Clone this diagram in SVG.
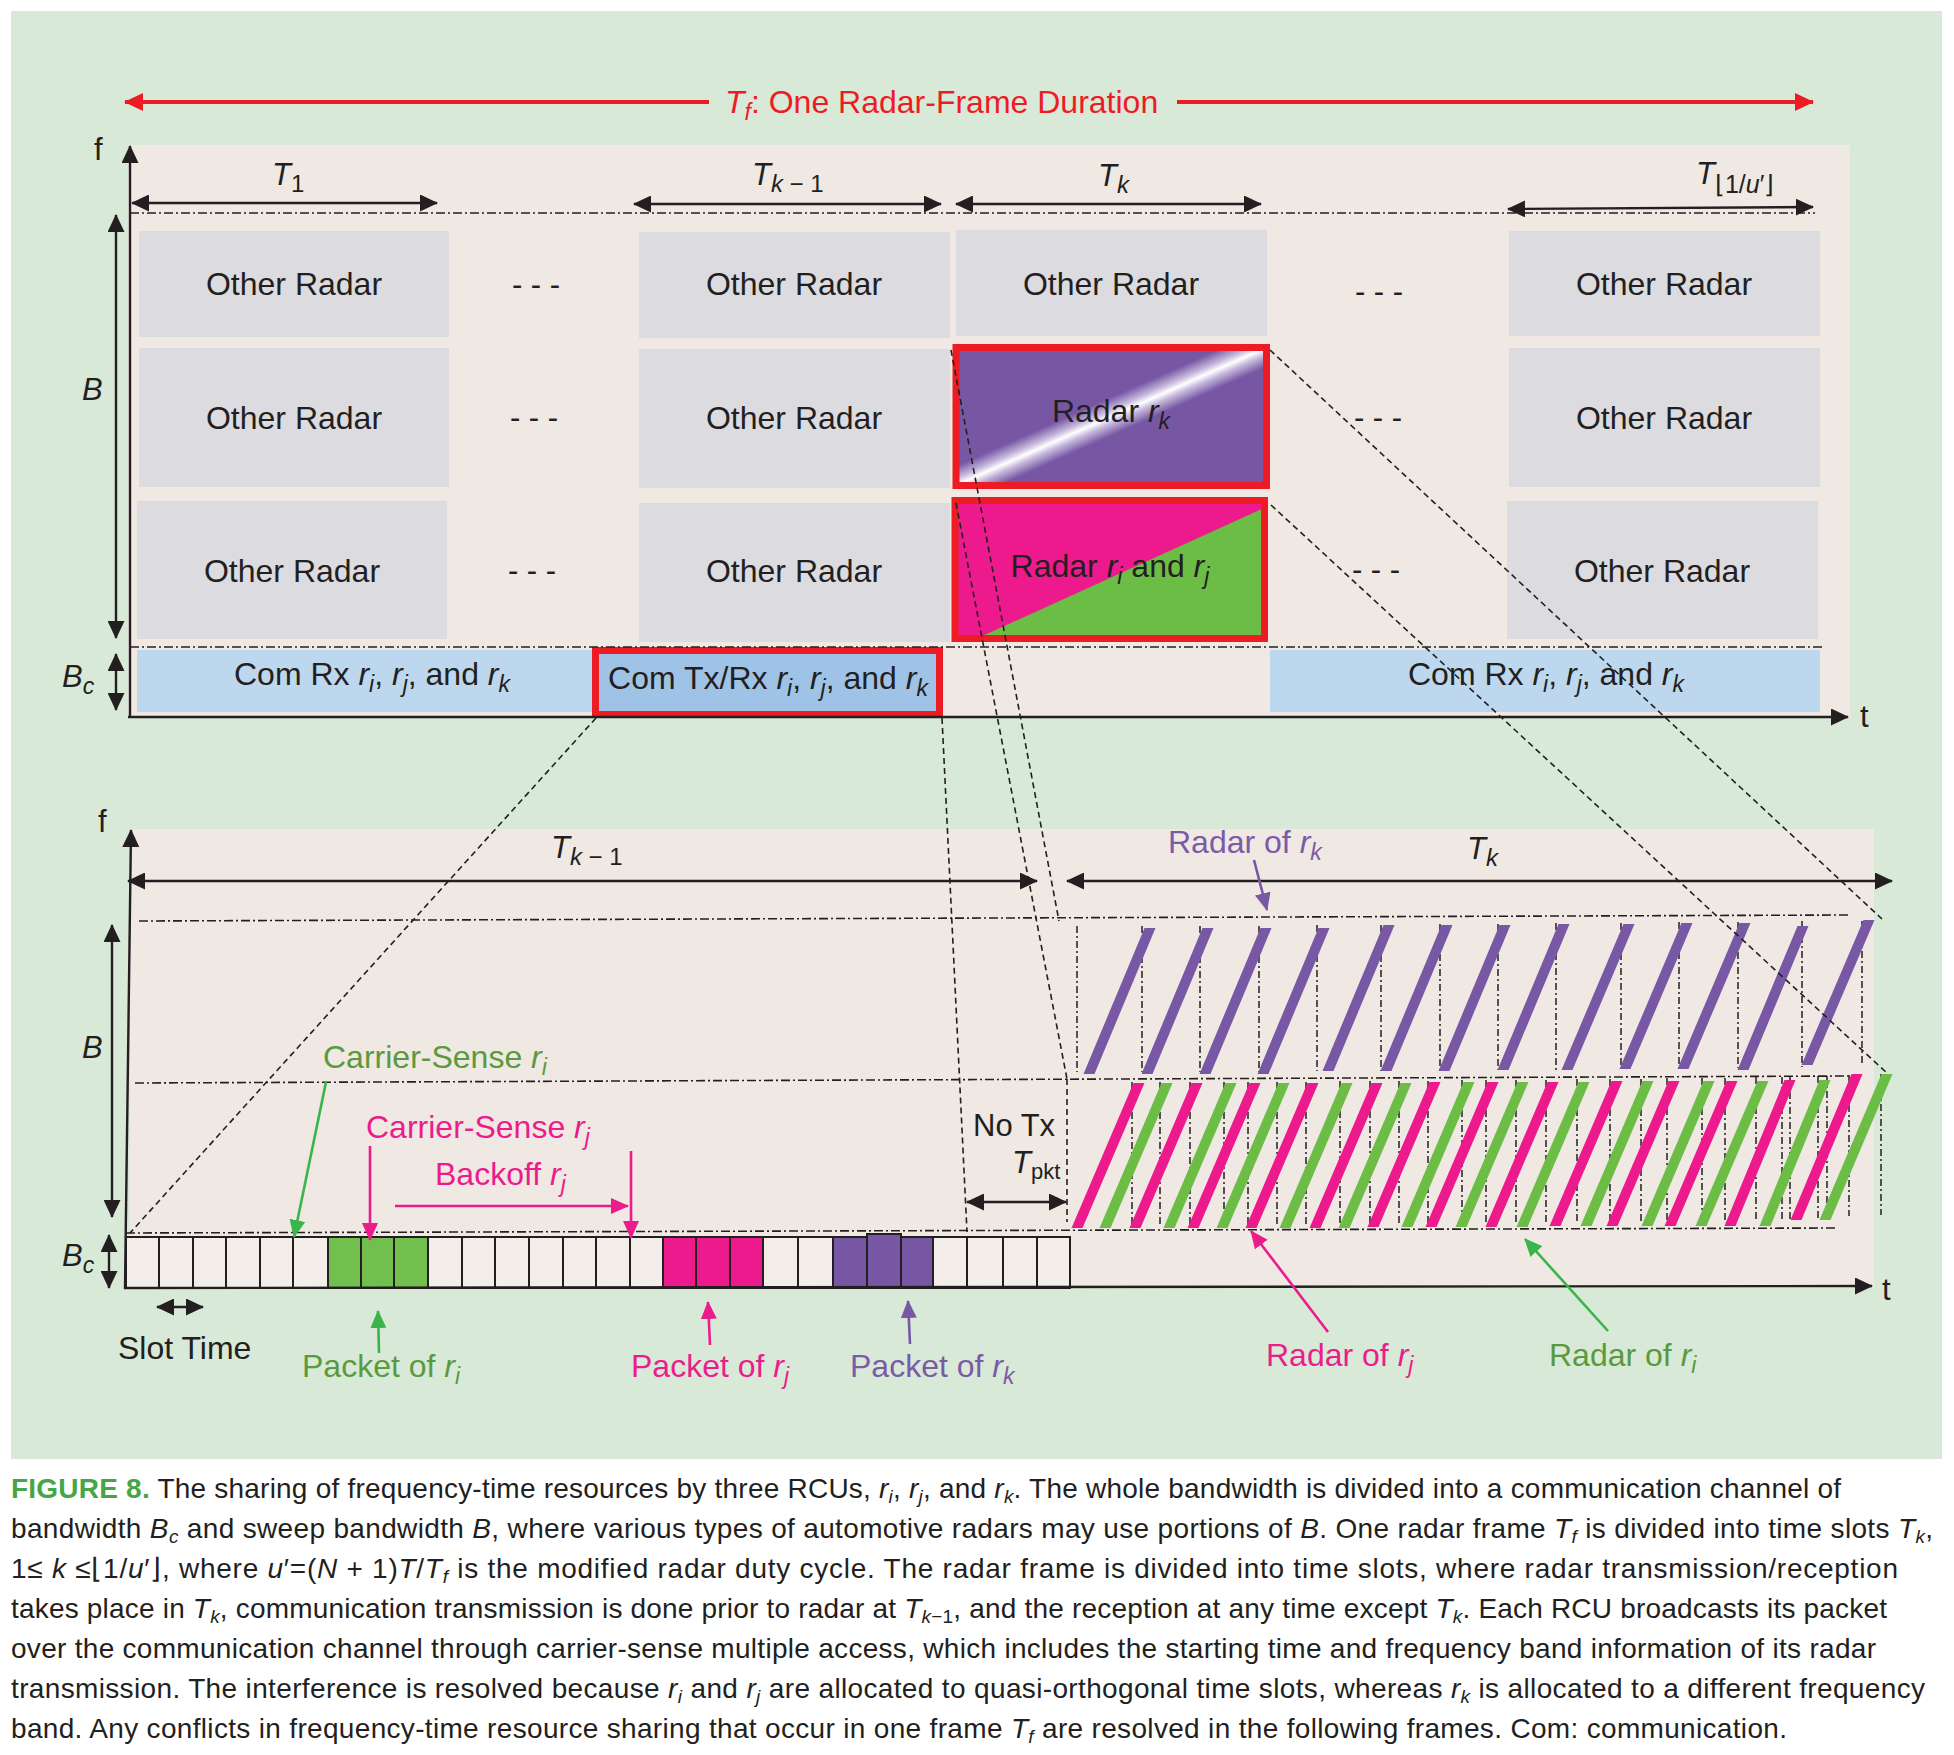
<svg xmlns="http://www.w3.org/2000/svg" width="1954" height="1755" viewBox="0 0 1954 1755">
<defs>
<style>
text{font-family:"Liberation Sans",Arial,Helvetica,sans-serif;fill:#231f20}
.s32{font-size:32px}
.s31{font-size:31px}
.it{font-style:italic}
.gr{fill:#dcdbdf}
.bl{fill:#bdd7ee}
.dd{fill:none;stroke:#231f20;stroke-width:1.6;stroke-dasharray:9 3 2 3}
.dv{fill:none;stroke:#231f20;stroke-width:1.5;stroke-dasharray:7 3 2 3}
.dz{fill:none;stroke:#231f20;stroke-width:1.6;stroke-dasharray:6 4}
.ax{fill:none;stroke:#231f20;stroke-width:2.4}
.dbl{marker-start:url(#ab);marker-end:url(#ab)}
.end{marker-end:url(#ab)}
.red{fill:none;stroke:#ed1c24;stroke-width:4}
.rb{fill:none;stroke:#ed1c24;stroke-width:7}
.slot{fill:#f3eeea;stroke:#231f20;stroke-width:2}
.pu{fill:#7858a5}
.mg{fill:#ec1a8c}
.gn{fill:#6cbd45}
.tg{fill:#5a9a3e}
.tm{fill:#ec1c8c}
.tp{fill:#7a5ba7}
.lg{fill:none;stroke:#39b54a;stroke-width:2.6;marker-end:url(#ag)}
.lm{fill:none;stroke:#ec1c8c;stroke-width:2.6;marker-end:url(#am)}
.lp{fill:none;stroke:#7858a5;stroke-width:2.6;marker-end:url(#ap)}
.cap{font-family:"Liberation Sans",Arial,sans-serif;font-size:28px}
.fig{font-weight:bold;fill:#45a547}
</style>
<marker id="ab" viewBox="0 0 18 17" refX="17" refY="8.5" markerWidth="18" markerHeight="17" markerUnits="userSpaceOnUse" orient="auto-start-reverse"><path d="M0,0L18,8.5L0,17z" fill="#231f20"/></marker>
<marker id="ar" viewBox="0 0 19 18" refX="18" refY="9" markerWidth="19" markerHeight="18" markerUnits="userSpaceOnUse" orient="auto-start-reverse"><path d="M0,0L19,9L0,18z" fill="#ed1c24"/></marker>
<marker id="ag" viewBox="0 0 18 16" refX="17" refY="8" markerWidth="18" markerHeight="16" markerUnits="userSpaceOnUse" orient="auto"><path d="M0,0L18,8L0,16z" fill="#39b54a"/></marker>
<marker id="am" viewBox="0 0 18 16" refX="17" refY="8" markerWidth="18" markerHeight="16" markerUnits="userSpaceOnUse" orient="auto"><path d="M0,0L18,8L0,16z" fill="#ec1c8c"/></marker>
<marker id="ap" viewBox="0 0 18 16" refX="17" refY="8" markerWidth="18" markerHeight="16" markerUnits="userSpaceOnUse" orient="auto"><path d="M0,0L18,8L0,16z" fill="#7858a5"/></marker>
<linearGradient id="gk" x1="0" y1="0" x2="1" y2="1">
<stop offset="0" stop-color="#7757a4"/><stop offset="0.43" stop-color="#7757a4"/><stop offset="0.475" stop-color="#c6b8dc"/><stop offset="0.5" stop-color="#ffffff"/><stop offset="0.525" stop-color="#c6b8dc"/><stop offset="0.57" stop-color="#7757a4"/><stop offset="1" stop-color="#7757a4"/>
</linearGradient>
</defs>

<rect x="0" y="0" width="1954" height="1755" fill="#ffffff"/>
<rect id="background" x="11" y="11" width="1931" height="1448" fill="#d9e9d7"/>

<!-- ===== upper panel ===== -->
<g id="upper-panel">
<rect x="128" y="145" width="1722" height="572" fill="#efe8e3"/>
<g id="other-radar-boxes">
<rect class="gr" x="139" y="231" width="310" height="106"/>
<rect class="gr" x="139" y="348" width="310" height="139"/>
<rect class="gr" x="137" y="501" width="310" height="138"/>
<rect class="gr" x="639" y="232" width="311" height="106"/>
<rect class="gr" x="639" y="349" width="311" height="139"/>
<rect class="gr" x="639" y="503" width="311" height="139"/>
<rect class="gr" x="956" y="230" width="311" height="106"/>
<rect class="gr" x="1509" y="231" width="311" height="105"/>
<rect class="gr" x="1509" y="348" width="311" height="139"/>
<rect class="gr" x="1507" y="501" width="311" height="138"/>
<text class="s32" x="294" y="295" text-anchor="middle">Other Radar</text>
<text class="s32" x="294" y="429" text-anchor="middle">Other Radar</text>
<text class="s32" x="292" y="582" text-anchor="middle">Other Radar</text>
<text class="s32" x="794" y="295" text-anchor="middle">Other Radar</text>
<text class="s32" x="794" y="429" text-anchor="middle">Other Radar</text>
<text class="s32" x="794" y="582" text-anchor="middle">Other Radar</text>
<text class="s32" x="1111" y="295" text-anchor="middle">Other Radar</text>
<text class="s32" x="1664" y="295" text-anchor="middle">Other Radar</text>
<text class="s32" x="1664" y="429" text-anchor="middle">Other Radar</text>
<text class="s32" x="1662" y="582" text-anchor="middle">Other Radar</text>
</g>
<g id="ellipses">
<text class="s31" x="536" y="295" text-anchor="middle">- - -</text>
<text class="s31" x="534" y="428" text-anchor="middle">- - -</text>
<text class="s31" x="532" y="581" text-anchor="middle">- - -</text>
<text class="s31" x="1379" y="302" text-anchor="middle">- - -</text>
<text class="s31" x="1378" y="428" text-anchor="middle">- - -</text>
<text class="s31" x="1376" y="580" text-anchor="middle">- - -</text>
</g>
<g id="radar-rk">
<rect x="956" y="347.5" width="310.5" height="138" fill="url(#gk)"/>
<rect class="rb" x="956" y="347.5" width="310.5" height="138"/>
<text class="s32" x="1111" y="422" text-anchor="middle">Radar <tspan class="it">r</tspan><tspan class="it" font-size="23" dy="7">k</tspan></text>
</g>
<g id="radar-ri-rj">
<rect class="mg" x="955" y="500.5" width="309.5" height="138"/>
<polygon class="gn" points="978,638 1264,508 1264,638"/>
<rect class="rb" x="955" y="500.5" width="309.5" height="138"/>
<text class="s32" x="1110" y="577" text-anchor="middle">Radar <tspan class="it">r</tspan><tspan class="it" font-size="23" dy="7">i</tspan><tspan dy="-7"> and </tspan><tspan class="it">r</tspan><tspan class="it" font-size="23" dy="7">j</tspan></text>
</g>
<g id="com-row">
<rect class="bl" x="137" y="650" width="472" height="62"/>
<rect class="bl" x="1270" y="650" width="550" height="62"/>
<text class="s32" x="372" y="685" text-anchor="middle">Com Rx <tspan class="it">r</tspan><tspan class="it" font-size="23" dy="7">i</tspan><tspan dy="-7">, </tspan><tspan class="it">r</tspan><tspan class="it" font-size="23" dy="7">j</tspan><tspan dy="-7">, and </tspan><tspan class="it">r</tspan><tspan class="it" font-size="23" dy="7">k</tspan></text>
<text class="s32" x="1546" y="685" text-anchor="middle">Com Rx <tspan class="it">r</tspan><tspan class="it" font-size="23" dy="7">i</tspan><tspan dy="-7">, </tspan><tspan class="it">r</tspan><tspan class="it" font-size="23" dy="7">j</tspan><tspan dy="-7">, and </tspan><tspan class="it">r</tspan><tspan class="it" font-size="23" dy="7">k</tspan></text>
</g>
<g id="com-txrx">
<rect x="595.5" y="650.5" width="344" height="64" fill="#9fc3e6"/>
<rect class="rb" x="595.5" y="650.5" width="344" height="64"/>
<text class="s32" x="768" y="689" text-anchor="middle">Com Tx/Rx <tspan class="it">r</tspan><tspan class="it" font-size="23" dy="7">i</tspan><tspan dy="-7">, </tspan><tspan class="it">r</tspan><tspan class="it" font-size="23" dy="7">j</tspan><tspan dy="-7">, and </tspan><tspan class="it">r</tspan><tspan class="it" font-size="23" dy="7">k</tspan></text>
</g>
<g id="upper-guides">
<line class="dd" x1="130" y1="213" x2="1815" y2="213"/>
<line class="dd" x1="130" y1="647" x2="1822" y2="647"/>
</g>
<g id="upper-axes">
<line class="ax end" x1="130" y1="718" x2="130" y2="146"/>
<line class="ax end" x1="128" y1="717" x2="1848" y2="717"/>
<text class="s31" x="94" y="160">f</text>
<text class="s31" x="1860" y="727">t</text>
<line class="ax dbl" x1="116" y1="215" x2="116" y2="638"/>
<line class="ax dbl" x1="116" y1="654" x2="116" y2="710"/>
<text class="s31 it" x="82" y="400">B</text>
<text class="s31" x="62" y="687"><tspan class="it">B</tspan><tspan class="it" font-size="23" dy="7">c</tspan></text>
</g>
<g id="upper-slot-labels">
<line class="ax dbl" x1="132" y1="203" x2="437" y2="203"/>
<line class="ax dbl" x1="634" y1="204" x2="941" y2="204"/>
<line class="ax dbl" x1="956" y1="204" x2="1261" y2="204"/>
<line class="ax dbl" x1="1508" y1="209" x2="1813" y2="207"/>
<text class="s31" x="272" y="185"><tspan class="it">T</tspan><tspan font-size="24" dy="7">1</tspan></text>
<text class="s31" x="752" y="185"><tspan class="it">T</tspan><tspan font-size="24" dy="7"><tspan class="it">k</tspan> − 1</tspan></text>
<text class="s31" x="1098" y="186"><tspan class="it">T</tspan><tspan class="it" font-size="24" dy="7">k</tspan></text>
<text class="s31" x="1696" y="184"><tspan class="it">T</tspan><tspan font-size="25" dy="9">⌊1/<tspan class="it">u</tspan>′⌋</tspan></text>
</g>
<g id="frame-duration">
<line class="red" x1="125" y1="102" x2="709" y2="102" marker-start="url(#ar)"/>
<line class="red" x1="1177" y1="102" x2="1813" y2="102" marker-end="url(#ar)"/>
<text class="s32" x="725" y="113" style="fill:#ed1c24"><tspan class="it">T</tspan><tspan class="it" font-size="23" dy="7">f</tspan><tspan dy="-7">: One Radar-Frame Duration</tspan></text>
</g>
</g>

<!-- ===== lower panel ===== -->
<g id="lower-panel">
<rect x="130" y="829" width="1744" height="459" fill="#efe8e3"/>
<g id="lower-guides">
<line class="dd" x1="139" y1="921" x2="1850" y2="915"/>
<line class="dd" x1="135" y1="1083" x2="1850" y2="1076"/>
<line class="dd" x1="126" y1="1233" x2="1836" y2="1228"/>
</g>
<g id="purple-verticals">
<line class="dv" x1="1077" y1="926" x2="1077" y2="1072"/>
<line class="dv" x1="1142" y1="926" x2="1142" y2="1072"/>
<line class="dv" x1="1200" y1="926" x2="1200" y2="1072"/>
<line class="dv" x1="1259" y1="926" x2="1259" y2="1072"/>
<line class="dv" x1="1317" y1="925" x2="1317" y2="1071"/>
<line class="dv" x1="1381" y1="925" x2="1381" y2="1071"/>
<line class="dv" x1="1440" y1="924" x2="1440" y2="1071"/>
<line class="dv" x1="1498" y1="924" x2="1498" y2="1070"/>
<line class="dv" x1="1556" y1="923" x2="1556" y2="1070"/>
<line class="dv" x1="1621" y1="923" x2="1621" y2="1069"/>
<line class="dv" x1="1679" y1="922" x2="1679" y2="1069"/>
<line class="dv" x1="1738" y1="922" x2="1738" y2="1068"/>
<line class="dv" x1="1802" y1="921" x2="1802" y2="1067"/>
<line class="dv" x1="1862" y1="921" x2="1862" y2="1066"/>
</g>
<g id="lower-verticals">
<line class="dv" x1="1132" y1="1082" x2="1132" y2="1227"/>
<line class="dv" x1="1160" y1="1082" x2="1160" y2="1227"/>
<line class="dv" x1="1190" y1="1082" x2="1190" y2="1227"/>
<line class="dv" x1="1224" y1="1082" x2="1224" y2="1227"/>
<line class="dv" x1="1248" y1="1082" x2="1248" y2="1227"/>
<line class="dv" x1="1277" y1="1082" x2="1277" y2="1227"/>
<line class="dv" x1="1306" y1="1082" x2="1306" y2="1227"/>
<line class="dv" x1="1340" y1="1081" x2="1340" y2="1226"/>
<line class="dv" x1="1370" y1="1081" x2="1370" y2="1226"/>
<line class="dv" x1="1399" y1="1081" x2="1399" y2="1226"/>
<line class="dv" x1="1428" y1="1081" x2="1428" y2="1226"/>
<line class="dv" x1="1462" y1="1080" x2="1462" y2="1226"/>
<line class="dv" x1="1486" y1="1080" x2="1486" y2="1225"/>
<line class="dv" x1="1516" y1="1080" x2="1516" y2="1225"/>
<line class="dv" x1="1546" y1="1080" x2="1546" y2="1225"/>
<line class="dv" x1="1577" y1="1079" x2="1577" y2="1224"/>
<line class="dv" x1="1610" y1="1079" x2="1610" y2="1224"/>
<line class="dv" x1="1641" y1="1079" x2="1641" y2="1224"/>
<line class="dv" x1="1667" y1="1078" x2="1667" y2="1223"/>
<line class="dv" x1="1702" y1="1078" x2="1702" y2="1223"/>
<line class="dv" x1="1725" y1="1078" x2="1725" y2="1222"/>
<line class="dv" x1="1756" y1="1077" x2="1756" y2="1222"/>
<line class="dv" x1="1782" y1="1077" x2="1782" y2="1220"/>
<line class="dv" x1="1790" y1="1077" x2="1790" y2="1220"/>
<line class="dv" x1="1818" y1="1076" x2="1818" y2="1218"/>
<line class="dv" x1="1827" y1="1076" x2="1827" y2="1218"/>
<line class="dv" x1="1849" y1="1075" x2="1849" y2="1216"/>
<line class="dv" x1="1881" y1="1074" x2="1881" y2="1215"/>
</g>
<g id="radar-rk-chirps" class="pu">
<polygon points="1083.5,1074 1094.5,1074 1155.5,928 1144.5,928"/>
<polygon points="1141.5,1074 1152.5,1074 1213.5,928 1202.5,928"/>
<polygon points="1199.5,1074 1210.5,1074 1271.5,928 1260.5,928"/>
<polygon points="1257.5,1074 1268.5,1074 1329.5,928 1318.5,928"/>
<polygon points="1322.5,1071 1333.5,1071 1394.5,925 1383.5,925"/>
<polygon points="1380.5,1071 1391.5,1071 1452.5,925 1441.5,925"/>
<polygon points="1438.5,1071 1449.5,1071 1510.5,925 1499.5,925"/>
<polygon points="1497.5,1070 1508.5,1070 1569.5,924 1558.5,924"/>
<polygon points="1561.5,1070 1572.5,1070 1634.5,924 1623.5,924"/>
<polygon points="1619.5,1069 1630.5,1069 1692.5,923 1681.5,923"/>
<polygon points="1677.5,1069 1688.5,1069 1750.5,923 1739.5,923"/>
<polygon points="1737.5,1070 1748.5,1070 1808.5,926 1797.5,926"/>
<polygon points="1801.5,1065 1812.5,1065 1874.5,920 1863.5,920"/>
</g>
<g id="radar-rj-chirps" class="mg">
<polygon points="1071.5,1228 1082.5,1228 1144.5,1083 1133.5,1083"/>
<polygon points="1129.5,1228 1140.5,1228 1202.5,1083 1191.5,1083"/>
<polygon points="1187.5,1228 1198.5,1228 1260.5,1083 1249.5,1083"/>
<polygon points="1245.5,1228 1256.5,1228 1318.5,1083 1307.5,1083"/>
<polygon points="1309.5,1228 1320.5,1228 1382.5,1083 1371.5,1083"/>
<polygon points="1367.5,1227 1378.5,1227 1440.5,1082 1429.5,1082"/>
<polygon points="1425.5,1227 1436.5,1227 1498.5,1082 1487.5,1082"/>
<polygon points="1485.5,1227 1496.5,1227 1558.5,1082 1547.5,1082"/>
<polygon points="1549.5,1226 1560.5,1226 1622.5,1081 1611.5,1081"/>
<polygon points="1606.5,1226 1617.5,1226 1679.5,1081 1668.5,1081"/>
<polygon points="1664.5,1226 1675.5,1226 1737.5,1081 1726.5,1081"/>
<polygon points="1724.5,1226 1735.5,1226 1795.5,1080 1784.5,1080"/>
<polygon points="1790.5,1220 1801.5,1220 1862.5,1074 1851.5,1074"/>
</g>
<g id="radar-ri-chirps" class="gn">
<polygon points="1099.5,1228 1110.5,1228 1172.5,1083 1161.5,1083"/>
<polygon points="1163.5,1228 1174.5,1228 1236.5,1083 1225.5,1083"/>
<polygon points="1216.5,1228 1227.5,1228 1289.5,1083 1278.5,1083"/>
<polygon points="1279.5,1228 1290.5,1228 1352.5,1083 1341.5,1083"/>
<polygon points="1338.5,1228 1349.5,1228 1411.5,1083 1400.5,1083"/>
<polygon points="1401.5,1227 1412.5,1227 1474.5,1082 1463.5,1082"/>
<polygon points="1455.5,1227 1466.5,1227 1528.5,1082 1517.5,1082"/>
<polygon points="1516.5,1227 1527.5,1227 1589.5,1082 1578.5,1082"/>
<polygon points="1580.5,1226 1591.5,1226 1653.5,1081 1642.5,1081"/>
<polygon points="1641.5,1226 1652.5,1226 1714.5,1081 1703.5,1081"/>
<polygon points="1695.5,1226 1706.5,1226 1768.5,1081 1757.5,1081"/>
<polygon points="1759.5,1226 1770.5,1226 1830.5,1080 1819.5,1080"/>
<polygon points="1819.5,1220 1830.5,1220 1892.5,1074 1881.5,1074"/>
</g>
<g id="slots">
<rect class="slot" x="126" y="1237" width="33" height="51"/>
<rect class="slot" x="159" y="1237" width="34" height="51"/>
<rect class="slot" x="193" y="1237" width="33" height="51"/>
<rect class="slot" x="226" y="1237" width="34" height="51"/>
<rect class="slot" x="260" y="1237" width="33" height="51"/>
<rect class="slot" x="293" y="1237" width="35" height="51"/>
<rect class="slot" x="328" y="1237" width="33" height="51" style="fill:#72bf4f"/>
<rect class="slot" x="361" y="1237" width="33" height="51" style="fill:#72bf4f"/>
<rect class="slot" x="394" y="1237" width="34" height="51" style="fill:#72bf4f"/>
<rect class="slot" x="428" y="1237" width="34" height="51"/>
<rect class="slot" x="462" y="1237" width="33" height="51"/>
<rect class="slot" x="495" y="1237" width="34" height="51"/>
<rect class="slot" x="529" y="1237" width="34" height="51"/>
<rect class="slot" x="563" y="1237" width="33" height="51"/>
<rect class="slot" x="596" y="1237" width="34" height="51"/>
<rect class="slot" x="630" y="1237" width="33" height="51"/>
<rect class="slot" x="663" y="1237" width="33" height="51" style="fill:#ec1a8c"/>
<rect class="slot" x="696" y="1237" width="34" height="51" style="fill:#ec1a8c"/>
<rect class="slot" x="730" y="1237" width="33" height="51" style="fill:#ec1a8c"/>
<rect class="slot" x="763" y="1237" width="35" height="51"/>
<rect class="slot" x="798" y="1237" width="35" height="51"/>
<rect class="slot" x="833" y="1237" width="34" height="51" style="fill:#7757a4"/>
<rect class="slot" x="867" y="1234" width="34" height="54" style="fill:#7757a4"/>
<rect class="slot" x="901" y="1237" width="32" height="51" style="fill:#7757a4"/>
<rect class="slot" x="933" y="1237" width="34" height="51"/>
<rect class="slot" x="967" y="1237" width="36" height="51"/>
<rect class="slot" x="1003" y="1237" width="34" height="51"/>
<rect class="slot" x="1037" y="1237" width="33" height="51"/>
</g>
<g id="lower-axes">
<line class="ax end" x1="125" y1="1289" x2="131" y2="830"/>
<line class="ax end" x1="124" y1="1288" x2="1872" y2="1286"/>
<text class="s31" x="98" y="832">f</text>
<text class="s31" x="1882" y="1300">t</text>
<line class="ax dbl" x1="112" y1="925" x2="112" y2="1217"/>
<line class="ax dbl" x1="109" y1="1235" x2="109" y2="1288"/>
<text class="s31 it" x="82" y="1058">B</text>
<text class="s31" x="62" y="1266"><tspan class="it">B</tspan><tspan class="it" font-size="23" dy="7">c</tspan></text>
<line class="ax dbl" x1="128" y1="881" x2="1037" y2="881"/>
<line class="ax dbl" x1="1067" y1="881" x2="1892" y2="881"/>
<text class="s31" x="551" y="858"><tspan class="it">T</tspan><tspan font-size="24" dy="7"><tspan class="it">k</tspan> − 1</tspan></text>
<text class="s31" x="1467" y="859"><tspan class="it">T</tspan><tspan class="it" font-size="24" dy="7">k</tspan></text>
<line class="ax dbl" x1="157" y1="1307" x2="203" y2="1307"/>
<text class="s32" x="118" y="1359">Slot Time</text>
<line class="ax dbl" x1="967" y1="1202" x2="1066" y2="1202"/>
<text class="s31" x="973" y="1136">No Tx</text>
<text class="s31" x="1012" y="1173"><tspan class="it">T</tspan><tspan font-size="22" dy="6">pkt</tspan></text>
</g>
<g id="labels">
<text class="s32 tg" x="323" y="1068">Carrier-Sense <tspan class="it">r</tspan><tspan class="it" font-size="23" dy="7">i</tspan></text>
<text class="s32 tm" x="366" y="1138">Carrier-Sense <tspan class="it">r</tspan><tspan class="it" font-size="23" dy="7">j</tspan></text>
<text class="s32 tm" x="435" y="1185">Backoff <tspan class="it">r</tspan><tspan class="it" font-size="23" dy="7">j</tspan></text>
<text class="s32 tg" x="302" y="1377">Packet of <tspan class="it">r</tspan><tspan class="it" font-size="23" dy="7">i</tspan></text>
<text class="s32 tm" x="631" y="1377">Packet of <tspan class="it">r</tspan><tspan class="it" font-size="23" dy="7">j</tspan></text>
<text class="s32 tp" x="850" y="1377">Packet of <tspan class="it">r</tspan><tspan class="it" font-size="23" dy="7">k</tspan></text>
<text class="s32 tp" x="1168" y="853">Radar of <tspan class="it">r</tspan><tspan class="it" font-size="23" dy="7">k</tspan></text>
<text class="s32 tm" x="1266" y="1366">Radar of <tspan class="it">r</tspan><tspan class="it" font-size="23" dy="7">j</tspan></text>
<text class="s32 tg" x="1549" y="1366">Radar of <tspan class="it">r</tspan><tspan class="it" font-size="23" dy="7">i</tspan></text>
</g>
</g>

<g id="connectors">
<line class="dz" x1="596" y1="718" x2="130" y2="1233"/>
<line class="dz" x1="942" y1="718" x2="967" y2="1232"/>
<line class="dz" x1="951" y1="350" x2="1059" y2="921"/>
<line class="dz" x1="956" y1="503" x2="1067" y2="1079"/>
<line class="dz" x1="1067" y1="1079" x2="1067" y2="1222"/>
<line class="dz" x1="1270" y1="350" x2="1882" y2="919"/>
<line class="dz" x1="1271" y1="505" x2="1888" y2="1074"/>
<line class="lg" x1="326" y1="1082" x2="294" y2="1237"/>
<line class="lm" x1="370" y1="1146" x2="370" y2="1240"/>
<line class="lm" x1="395" y1="1206" x2="628" y2="1206"/>
<line class="lm" x1="631" y1="1151" x2="631" y2="1238"/>
<line class="lg" x1="379" y1="1353" x2="378" y2="1311"/>
<line class="lm" x1="710" y1="1345" x2="708" y2="1302"/>
<line class="lp" x1="910" y1="1344" x2="908" y2="1301"/>
<line class="lp" x1="1254" y1="860" x2="1267" y2="910"/>
<line class="lm" x1="1328" y1="1332" x2="1251" y2="1231"/>
<line class="lg" x1="1608" y1="1331" x2="1525" y2="1239"/>
</g>

<g id="caption">
<text class="cap" x="11" y="1498" textLength="1830" lengthAdjust="spacing"><tspan class="fig">FIGURE 8.</tspan> The sharing of frequency-time resources by three RCUs, <tspan class="it">r</tspan><tspan class="it" font-size="19" dy="5">i</tspan><tspan dy="-5">, </tspan><tspan class="it">r</tspan><tspan class="it" font-size="19" dy="5">j</tspan><tspan dy="-5">, and </tspan><tspan class="it">r</tspan><tspan class="it" font-size="19" dy="5">k</tspan><tspan dy="-5">. The whole bandwidth is divided into a communication channel of</tspan></text>
<text class="cap" x="11" y="1538" textLength="1922" lengthAdjust="spacing">bandwidth <tspan class="it">B</tspan><tspan class="it" font-size="19" dy="5">c</tspan><tspan dy="-5"> and sweep bandwidth </tspan><tspan class="it">B</tspan>, where various types of automotive radars may use portions of <tspan class="it">B</tspan>. One radar frame <tspan class="it">T</tspan><tspan class="it" font-size="19" dy="5">f</tspan><tspan dy="-5"> is divided into time slots </tspan><tspan class="it">T</tspan><tspan class="it" font-size="19" dy="5">k</tspan><tspan dy="-5">,</tspan></text>
<text class="cap" x="11" y="1578" textLength="1887" lengthAdjust="spacing">1≤ <tspan class="it">k</tspan> ≤⌊1/<tspan class="it">u</tspan>′⌋, where <tspan class="it">u</tspan>′=(<tspan class="it">N</tspan> + 1)<tspan class="it">T</tspan>/<tspan class="it">T</tspan><tspan class="it" font-size="19" dy="5">f</tspan><tspan dy="-5"> is the modified radar duty cycle. The radar frame is divided into time slots, where radar transmission/reception</tspan></text>
<text class="cap" x="11" y="1618" textLength="1876" lengthAdjust="spacing">takes place in <tspan class="it">T</tspan><tspan class="it" font-size="19" dy="5">k</tspan><tspan dy="-5">, communication transmission is done prior to radar at </tspan><tspan class="it">T</tspan><tspan font-size="19" dy="5"><tspan class="it">k</tspan>−1</tspan><tspan dy="-5">, and the reception at any time except </tspan><tspan class="it">T</tspan><tspan class="it" font-size="19" dy="5">k</tspan><tspan dy="-5">. Each RCU broadcasts its packet</tspan></text>
<text class="cap" x="11" y="1658" textLength="1865" lengthAdjust="spacing">over the communication channel through carrier-sense multiple access, which includes the starting time and frequency band information of its radar</text>
<text class="cap" x="11" y="1698" textLength="1914" lengthAdjust="spacing">transmission. The interference is resolved because <tspan class="it">r</tspan><tspan class="it" font-size="19" dy="5">i</tspan><tspan dy="-5"> and </tspan><tspan class="it">r</tspan><tspan class="it" font-size="19" dy="5">j</tspan><tspan dy="-5"> are allocated to quasi-orthogonal time slots, whereas </tspan><tspan class="it">r</tspan><tspan class="it" font-size="19" dy="5">k</tspan><tspan dy="-5"> is allocated to a different frequency</tspan></text>
<text class="cap" x="11" y="1738" textLength="1776" lengthAdjust="spacing">band. Any conflicts in frequency-time resource sharing that occur in one frame <tspan class="it">T</tspan><tspan class="it" font-size="19" dy="5">f</tspan><tspan dy="-5"> are resolved in the following frames. Com: communication.</tspan></text>
</g>
</svg>
